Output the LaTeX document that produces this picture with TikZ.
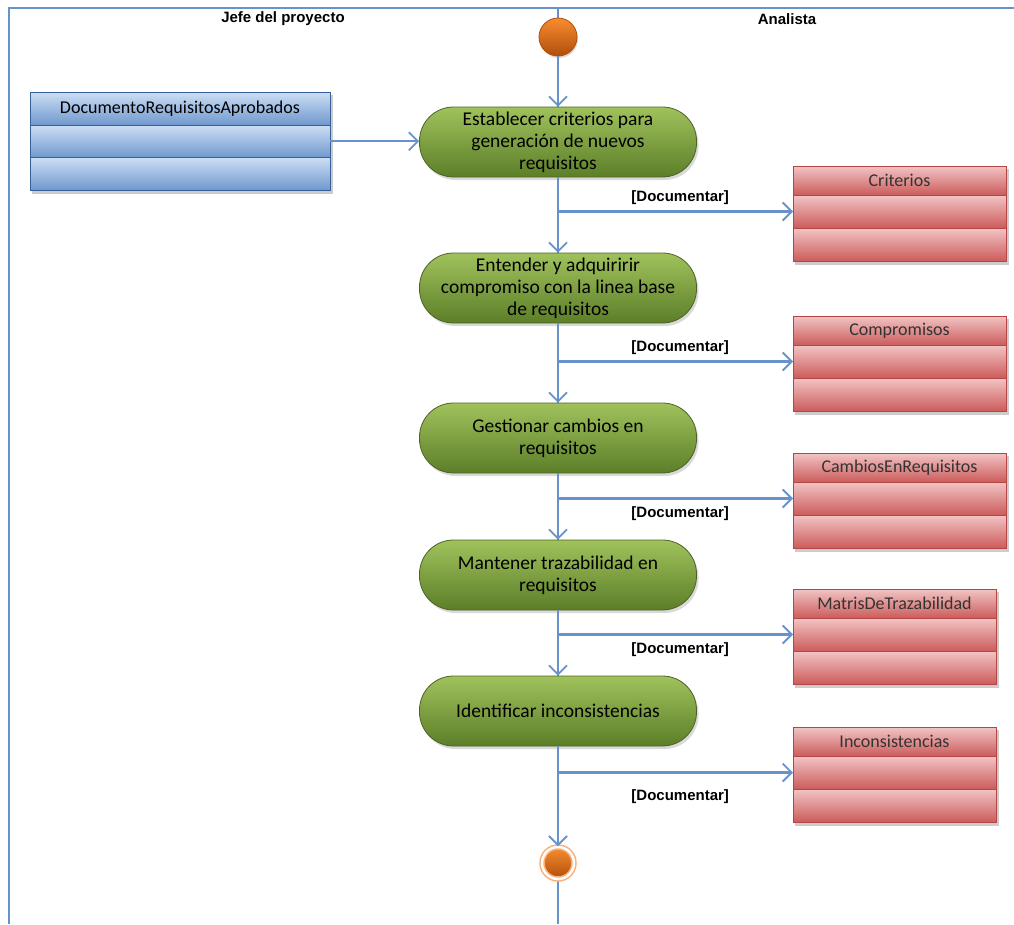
\documentclass[tikz,border=0pt]{standalone}
\usepackage{fontspec}
\setmainfont{Carlito}
\newfontfamily\headfont{Liberation Sans}
\usetikzlibrary{arrows.meta,positioning,shadows,backgrounds,calc}

\definecolor{flowblue}{RGB}{104,146,204}
\definecolor{greentop}{RGB}{160,194,92}
\definecolor{greenbot}{RGB}{92,126,40}
\definecolor{greenline}{RGB}{78,98,40}
\definecolor{redtop}{RGB}{242,196,196}
\definecolor{redbot}{RGB}{204,92,92}
\definecolor{redline}{RGB}{180,70,68}
\definecolor{bluetop}{RGB}{204,222,244}
\definecolor{bluebot}{RGB}{112,152,206}
\definecolor{blueline}{RGB}{56,96,152}
\definecolor{orangetop}{RGB}{248,140,48}
\definecolor{orangebot}{RGB}{176,78,10}
\definecolor{orangering}{RGB}{250,175,120}

\tikzset{
  lane/.style={draw=flowblue, line width=2.4pt},
  flow/.style={draw=flowblue, line width=2.2pt, -{Straight Barb[length=9pt,width=18pt,line width=1.8pt]}},
  lanehead/.style={font=\headfont\bfseries\fontsize{15}{18}\selectfont},
  doclabel/.style={font=\headfont\bfseries\fontsize{15}{18}\selectfont, inner sep=1pt},
  activity/.style={rectangle, rounded corners=34pt, minimum width=277pt, minimum height=70pt,
    draw=greenline, line width=0.8pt, top color=greentop, bottom color=greenbot,
    align=center, text=black, font=\fontsize{19.5}{22}\selectfont,
    drop shadow={opacity=0.3, shadow xshift=2pt, shadow yshift=-3pt}},
  startnode/.style={circle, minimum size=38pt, draw=orangebot, line width=0.8pt,
    top color=orangetop, bottom color=orangebot,
    drop shadow={opacity=0.3, shadow xshift=1pt, shadow yshift=-2pt}},
  endnode/.style={circle, minimum size=32pt, top color=orangetop, bottom color=orangebot,
    draw=orangering, line width=1.5pt, double=white, double distance=2.5pt},
  classpart/.style={rectangle, inner sep=2pt, outer sep=0pt, line width=0.8pt,
    font=\fontsize{18}{22}\selectfont},
  redhead/.style={classpart, draw=redline, top color=redtop, bottom color=redbot,
    text=black!80, minimum width=#1, minimum height=29pt},
  redhead/.default=213pt,
  redrow/.style={classpart, draw=redline, top color=redtop, bottom color=redbot,
    minimum width=#1, minimum height=33pt},
  redrow/.default=213pt,
  bluehead/.style={classpart, draw=blueline, top color=bluetop, bottom color=bluebot,
    text=black, minimum width=300pt, minimum height=33pt},
  bluerow/.style={classpart, draw=blueline, top color=bluetop, bottom color=bluebot,
    minimum width=300pt, minimum height=32.5pt},
}

\begin{document}
\begin{tikzpicture}[x=1pt,y=-1pt]
\useasboundingbox (0,0) rectangle (1014,924);

% swimlanes
\coordinate (laneTL) at (9,8);
\coordinate (laneTR) at (1014,8);
\coordinate (laneBL) at (9,924);
\coordinate (laneTop) at (558,8);
\coordinate (laneBot) at (558,924);
\draw[lane] (laneBL) -- (laneTL) -- (laneTR);
\draw[lane] (laneTop) -- (laneBot);
\node[lanehead] (jefe) at (283,19) {Jefe del proyecto};
\node[lanehead] (analista) at (787,19) {Analista};

% actividades
\node[startnode] (ini) at (558,37) {};
\node[activity] (est) at (558,142) {Establecer criterios para\\generación de nuevos\\requisitos};
\node[activity] (ent) at (558,288) {Entender y adquiririr\\compromiso con la linea base\\de requisitos};
\node[activity] (ges) at (558,438) {Gestionar cambios en\\requisitos};
\node[activity] (man) at (558,575) {Mantener trazabilidad en\\requisitos};
\node[activity] (ide) at (558,711) {Identificar inconsistencias};
\node[endnode] (fin) at (558,863) {};

% objetos
\node[bluehead] (doc) at (180,108.5) {DocumentoRequisitosAprobados};
\node[bluerow, below=0pt of doc] (doca) {};
\node[bluerow, below=0pt of doca] (docb) {};

\node[redhead] (crit) at (899.5,180.5) {Criterios};
\node[redrow, below=0pt of crit] (crita) {};
\node[redrow, below=0pt of crita] (critb) {};

\node[redhead] (comp) at (899.5,330.5) {Compromisos};
\node[redrow, below=0pt of comp] (compa) {};
\node[redrow, below=0pt of compa] (compb) {};

\node[redhead] (camb) at (899.5,467.5) {CambiosEnRequisitos};
\node[redrow, below=0pt of camb] (camba) {};
\node[redrow, below=0pt of camba] (cambb) {};

\node[redhead=203pt] (matr) at (894.5,603.5) {MatrisDeTrazabilidad};
\node[redrow=203pt, below=0pt of matr] (matra) {};
\node[redrow=203pt, below=0pt of matra] (matrb) {};

\node[redhead=203pt] (inco) at (894.5,741.5) {Inconsistencias};
\node[redrow=203pt, below=0pt of inco] (incoa) {};
\node[redrow=203pt, below=0pt of incoa] (incob) {};

\begin{scope}[on background layer]
\foreach \cls in {doc,crit,comp,camb,matr,inco}
  \fill[black,opacity=0.2] ($(\cls.north west)+(2,3)$) rectangle ($(\cls b.south east)+(3,4)$);
\end{scope}

% flujo
\draw[flow] (ini) -- (est);
\draw[flow] (doca.east) -- (doca.east -| est.west);
\draw[flow] (est) -- (ent);
\draw[flow] (ent) -- (ges);
\draw[flow] (ges) -- (man);
\draw[flow] (man) -- (ide);
\draw[flow] (ide) -- (fin);

\draw[flow] (est.south |- crita.west) -- (crita.west) node[doclabel, pos=0.52, above=5pt] {[Documentar]};
\draw[flow] (ent.south |- compa.west) -- (compa.west) node[doclabel, pos=0.52, above=5pt] {[Documentar]};
\draw[flow] (ges.south |- camba.west) -- (camba.west) node[doclabel, pos=0.52, below=6pt] {[Documentar]};
\draw[flow] (man.south |- matra.west) -- (matra.west) node[doclabel, pos=0.52, below=6pt] {[Documentar]};
\draw[flow] (ide.south |- incoa.west) -- (incoa.west) node[doclabel, pos=0.52, below=15pt] {[Documentar]};
\end{tikzpicture}
\end{document}
